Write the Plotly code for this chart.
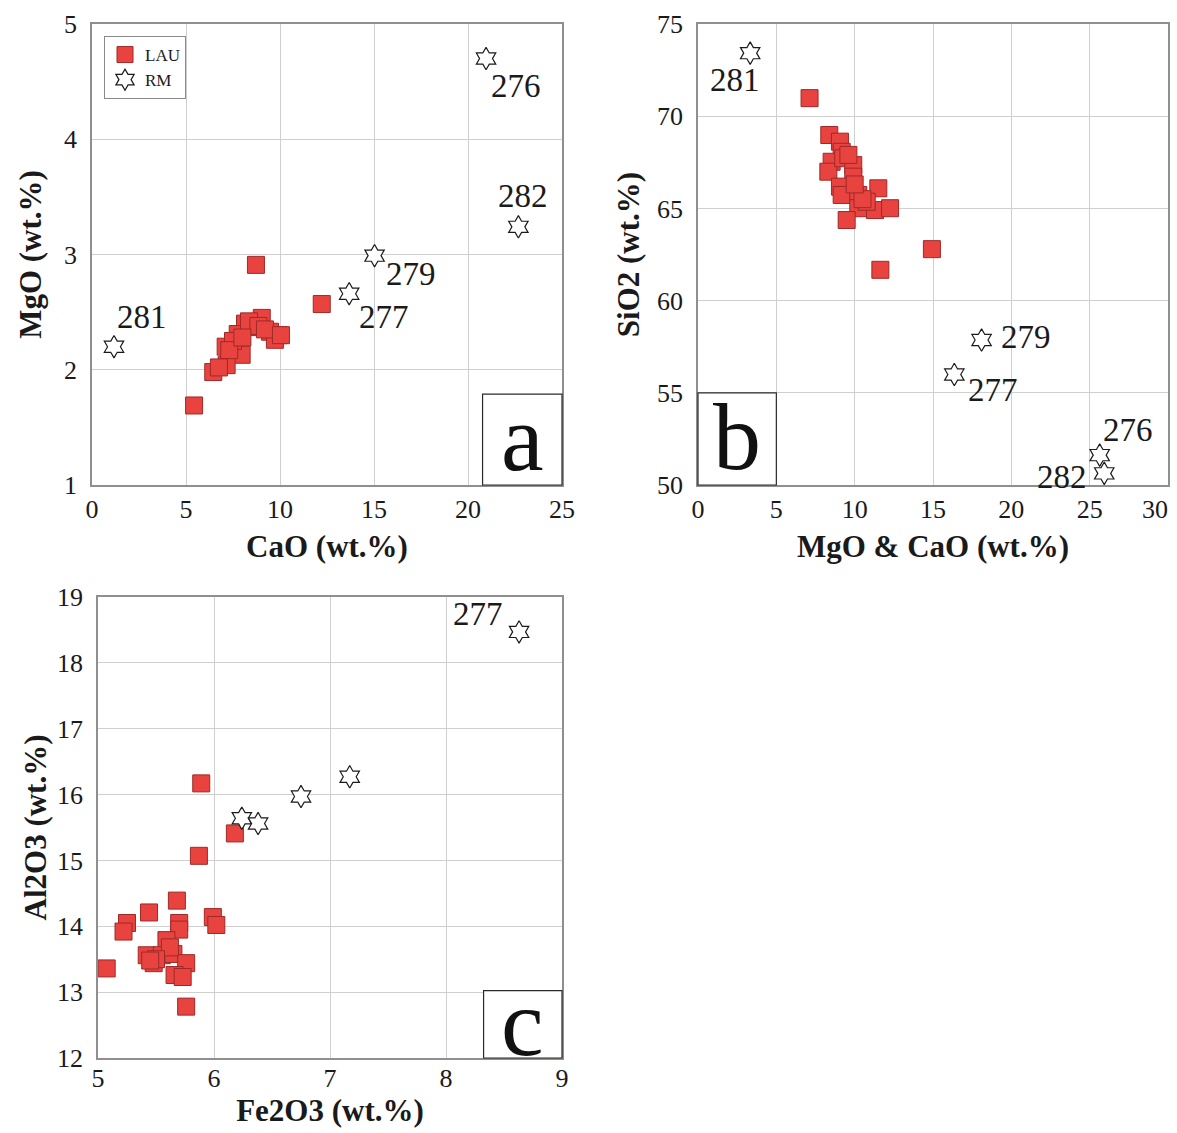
import plotly.graph_objects as go

# ---------------- Panel a: CaO vs MgO ----------------
lau_a_cao = [8.72, 12.22, 5.43, 9.03, 8.14, 7.75, 9.91, 9.47, 7.11, 7.96, 7.16, 6.45,
             8.58, 9.73, 8.35, 8.85, 7.50, 7.30, 6.75, 8.00, 9.20, 10.05]
lau_a_mgo = [2.91, 2.57, 1.69, 2.45, 2.40, 2.31, 2.30, 2.33, 2.20, 2.13, 2.04, 1.98,
             2.37, 2.26, 2.42, 2.38, 2.25, 2.17, 2.02, 2.28, 2.35, 2.30]
rm_a_cao = [1.17, 13.68, 15.03, 20.96, 22.68]
rm_a_mgo = [2.20, 2.66, 2.99, 4.70, 3.24]
rm_a_ids = ["281", "277", "279", "276", "282"]
rm_a_lab_x = [2.64, 15.54, 16.95, 22.54, 22.94]
rm_a_lab_y = [2.46, 2.46, 2.83, 4.46, 3.51]

# ---------------- Panel b: MgO & CaO vs SiO2 ----------------
lau_b_mgcao = [7.12, 14.93, 11.64, 8.38, 9.06, 9.17, 8.53, 8.32, 9.27, 9.91, 9.91, 9.06,
               9.17, 10.23, 11.51, 10.23, 11.30, 12.26, 9.49, 10.77, 9.60, 10.50, 10.00]
lau_b_sio2 = [70.98, 62.79, 61.67, 68.98, 68.62, 68.07, 67.53, 66.99, 67.72, 67.35, 66.72,
              66.18, 65.73, 65.73, 66.09, 65.01, 64.91, 65.01, 64.37, 65.36, 67.90, 65.50, 66.30]
rm_b_mgcao = [3.33, 18.10, 16.36, 25.64, 25.93]
rm_b_sio2 = [73.42, 57.86, 55.99, 51.62, 50.63]
rm_b_ids = ["281", "279", "277", "276", "282"]
rm_b_lab_x = [2.38, 20.95, 18.81, 27.43, 23.26]
rm_b_lab_y = [71.97, 58.02, 55.16, 52.99, 50.43]
b_xticks = [0, 5, 10, 15, 20, 25, 30]

# ---------------- Panel c: Fe2O3 vs Al2O3 ----------------
lau_c_fe2o3 = [5.89, 6.18, 5.87, 5.68, 5.44, 5.25, 5.22, 5.70, 5.70, 5.99, 6.02, 5.59,
               5.42, 5.55, 5.65, 5.76, 5.66, 5.73, 5.76, 5.48, 5.075, 5.62, 5.50, 5.45]
lau_c_al2o3 = [16.17, 15.41, 15.07, 14.39, 14.21, 14.05, 13.92, 14.05, 13.95, 14.14, 14.02,
               13.79, 13.56, 13.56, 13.58, 13.44, 13.26, 13.23, 12.78, 13.44, 13.36, 13.68,
               13.50, 13.48]
rm_c_fe2o3 = [6.24, 6.38, 6.75, 7.17, 8.63]
rm_c_al2o3 = [15.64, 15.56, 15.97, 16.27, 18.47]
rm_c_ids = ["277"]
rm_c_lab_x = [8.28]
rm_c_lab_y = [18.74]

SERIF = "Liberation Serif, Times New Roman, serif"
SQ_FILL = "#e8433f"
SQ_EDGE = "#9e2a28"
TICK_SIZE = 26

square = dict(symbol="square", size=17, color=SQ_FILL, line=dict(color=SQ_EDGE, width=1))
star = dict(symbol="hexagram", size=17, color="white", line=dict(color="#1a1a1a", width=1.2))

fig = go.Figure()

panels = [
    ("x", "y", lau_a_cao, lau_a_mgo, rm_a_cao, rm_a_mgo, True),
    ("x2", "y2", lau_b_mgcao, lau_b_sio2, rm_b_mgcao, rm_b_sio2, False),
    ("x3", "y3", lau_c_fe2o3, lau_c_al2o3, rm_c_fe2o3, rm_c_al2o3, False),
]
for xa, ya, lx, ly, rx, ry, legend in panels:
    fig.add_trace(go.Scatter(x=lx, y=ly, mode="markers", name="LAU", marker=square,
                             xaxis=xa, yaxis=ya, showlegend=legend, cliponaxis=False))
    fig.add_trace(go.Scatter(x=rx, y=ry, mode="markers", name="RM", marker=star,
                             xaxis=xa, yaxis=ya, showlegend=legend, cliponaxis=False))

# sample number labels
annotations = []
for xa, ya, ids, lx, ly in [("x", "y", rm_a_ids, rm_a_lab_x, rm_a_lab_y),
                            ("x2", "y2", rm_b_ids, rm_b_lab_x, rm_b_lab_y),
                            ("x3", "y3", rm_c_ids, rm_c_lab_x, rm_c_lab_y)]:
    for t, x, y in zip(ids, lx, ly):
        annotations.append(dict(x=x, y=y, xref=xa, yref=ya, text=t, showarrow=False,
                                font=dict(family=SERIF, size=33, color="#1a1a1a"),
                                xanchor="center", yanchor="middle"))

# the last tick label of panel b sits flush with the right edge of the frame
annotations.append(dict(x=b_xticks[-1], y=-0.054, xref="x2", yref="y2 domain",
                        text=str(b_xticks[-1]), showarrow=False, xanchor="right",
                        yanchor="middle", xshift=2,
                        font=dict(family=SERIF, size=TICK_SIZE, color="#1a1a1a")))

# panel letters with their boxes
shapes = []
letter_boxes = [
    ("x", "y", "a", 0.831, 1.0, 0.0, 0.197),
    ("x2", "y2", "b", 0.0, 0.1667, 0.0, 0.2),
    ("x3", "y3", "c", 0.831, 1.0, 0.0, 0.146),
]
for xa, ya, letter, x0, x1, y0, y1 in letter_boxes:
    shapes.append(dict(type="rect", xref=f"{xa} domain", yref=f"{ya} domain",
                       x0=x0, x1=x1, y0=y0, y1=y1,
                       line=dict(color="#2a2a2a", width=1.2), fillcolor="white", layer="above"))
    annotations.append(dict(x=(x0 + x1) / 2, y=(y0 + y1) / 2 + 0.005,
                            xref=f"{xa} domain", yref=f"{ya} domain",
                            text=letter, showarrow=False,
                            font=dict(family=SERIF, size=96, color="#111111"),
                            xanchor="center", yanchor="middle"))

W, H = 1177, 1133


def axis(title, rng, dtick, domain, anchor, standoff, label_gap):
    return dict(
        range=rng, dtick=dtick, domain=domain, anchor=anchor, automargin=False,
        showgrid=True, gridcolor="#cfcfcf", gridwidth=1,
        showline=True, mirror=True, linecolor="#8f8f8f", linewidth=1.5,
        zeroline=False, ticks="", ticklabelstandoff=label_gap,
        tickfont=dict(family=SERIF, size=TICK_SIZE, color="#1a1a1a"),
        title=dict(text=title, standoff=standoff,
                   font=dict(family=SERIF, size=31, color="#1a1a1a", weight="bold")),
    )


xaxis2 = axis("MgO & CaO (wt.%)", [0, 30], 5, [698 / W, 1168 / W], "y2", 12, 0)
xaxis2.update(tickmode="array", tickvals=b_xticks,
              ticktext=[str(v) for v in b_xticks[:-1]] + [""])

ya_dom = [1 - 485 / H, 1 - 24 / H]
fig.update_layout(
    width=W, height=H,
    margin=dict(l=0, r=0, t=0, b=0),
    paper_bgcolor="white", plot_bgcolor="white",
    xaxis=axis("CaO (wt.%)", [0, 25], 5, [92 / W, 562 / W], "y", 12, 0),
    yaxis=axis("MgO (wt.%)", [1, 5], 1, ya_dom, "x", 13, 8),
    xaxis2=xaxis2,
    yaxis2=axis("SiO2 (wt.%)", [50, 75], 5, ya_dom, "x2", 8, 8),
    xaxis3=axis("Fe2O3 (wt.%)", [5, 9], 1, [98 / W, 562 / W], "y3", 2, -4),
    yaxis3=axis("Al2O3 (wt.%)", [12, 19], 1, [1 - 1058 / H, 1 - 597 / H], "x3", 1, 8),
    legend=dict(x=104 / W, y=1 - 36 / H, xanchor="left", yanchor="top",
                bgcolor="white", bordercolor="#8a8a8a", borderwidth=1,
                font=dict(family=SERIF, size=17, color="#1a1a1a"),
                itemwidth=30, tracegroupgap=0),
    annotations=annotations,
    shapes=shapes,
    showlegend=True,
)

fig.write_html("out.html")
